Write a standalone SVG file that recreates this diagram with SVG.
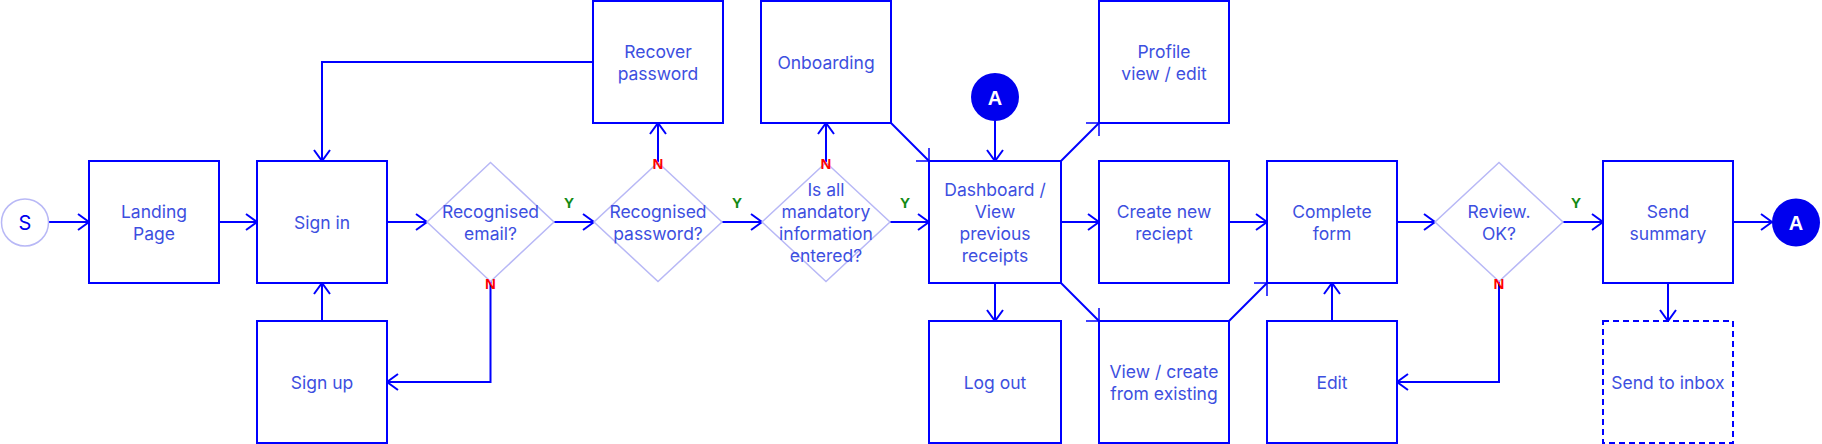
<svg xmlns="http://www.w3.org/2000/svg" width="1822" height="444" viewBox="0 0 1822 444">
<defs>
<style>
.box{fill:#ffffff;stroke:#0000ff;stroke-width:2}
.dash{stroke-dasharray:6 4}
.dia{fill:#ffffff;stroke:#b8b8f6;stroke-width:1.5}
.t{font-family:Inter,"Liberation Sans",sans-serif;font-size:17.5px;fill:#3d4fe0;text-anchor:middle}
.c{fill:none;stroke:#0000ff;stroke-width:2;marker-end:url(#arr)}
.d{fill:none;stroke:#0000ff;stroke-width:2;marker-end:url(#arrd)}
.y{font-family:"Liberation Sans",Arial,sans-serif;font-size:15px;font-weight:bold;fill:#138a13;text-anchor:middle}
.n{font-family:"Liberation Sans",Arial,sans-serif;font-size:15px;font-weight:bold;fill:#ff0000;text-anchor:middle}
.a{font-family:"Liberation Sans",Arial,sans-serif;font-size:20px;font-weight:bold;fill:#ffffff;text-anchor:middle}
</style>
<marker id="arr" markerUnits="userSpaceOnUse" markerWidth="30" markerHeight="30" viewBox="-15 -15 30 30" refX="0" refY="0" orient="auto" overflow="visible">
<path d="M-11,-8 L0,0 L-11,8" fill="none" stroke="#0000ff" stroke-width="2"/>
</marker>
<marker id="arrd" markerUnits="userSpaceOnUse" markerWidth="30" markerHeight="30" viewBox="-15 -15 30 30" refX="0" refY="0" orient="auto" overflow="visible">
<path d="M-9.2,-9.2 L0,0 L-9.2,9.2" fill="none" stroke="#0000ff" stroke-width="1.5"/>
</marker>
</defs>
<rect width="1822" height="444" fill="#ffffff"/>

<g id="connectors">
<path class="c" d="M49,222 H89"/>
<path class="c" d="M219,222 H257"/>
<path class="c" d="M387,222 H427"/>
<path class="c" d="M554,222 H594"/>
<path class="c" d="M722,222 H762"/>
<path class="c" d="M890,222 H929"/>
<path class="c" d="M1061,222 H1099"/>
<path class="c" d="M1229,222 H1267"/>
<path class="c" d="M1397,222 H1435"/>
<path class="c" d="M1563,222 H1603"/>
<path class="c" d="M1733,222 H1772"/>
<path class="c" d="M593,62 H322 V161"/>
<path class="c" d="M322,321 V283"/>
<path class="c" d="M490.5,281 V382 H387"/>
<path class="c" d="M658,162 V123"/>
<path class="c" d="M826,162 V123"/>
<path class="c" d="M995,121 V161"/>
<path class="c" d="M995,283 V321"/>
<path class="c" d="M1332,321 V283"/>
<path class="c" d="M1499,281 V382 H1397"/>
<path class="c" d="M1668,283 V321"/>
<path class="d" d="M891,123 L929,161"/>
<path class="d" d="M1061,161 L1099,123"/>
<path class="d" d="M1061,283 L1099,321"/>
<path class="d" d="M1229,321 L1267,283"/>
</g>

<g id="start">
<circle cx="25" cy="222.5" r="23.5" fill="#ffffff" stroke="#b8b8f6" stroke-width="1.5"/>
<text class="t" x="25" y="230" style="fill:#0000ee;font-size:20px">S</text>
</g>
<g id="landing">
<rect class="box" x="89" y="161" width="130" height="122"/>
<text class="t" x="154" y="218">Landing</text>
<text class="t" x="154" y="240">Page</text>
</g>
<g id="signin">
<rect class="box" x="257" y="161" width="130" height="122"/>
<text class="t" x="322" y="229">Sign in</text>
</g>
<g id="signup">
<rect class="box" x="257" y="321" width="130" height="122"/>
<text class="t" x="322" y="389">Sign up</text>
</g>
<g id="email">
<polygon class="dia" points="490.5,162.5 554,222 490.5,281.5 427,222"/>
<text class="t" x="490.5" y="218">Recognised</text>
<text class="t" x="490.5" y="240">email?</text>
</g>
<g id="recover">
<rect class="box" x="593" y="1" width="130" height="122"/>
<text class="t" x="658" y="58">Recover</text>
<text class="t" x="658" y="80">password</text>
</g>
<g id="password">
<polygon class="dia" points="658,162.5 722,222 658,281.5 594,222"/>
<text class="t" x="658" y="218">Recognised</text>
<text class="t" x="658" y="240">password?</text>
</g>
<g id="onboarding">
<rect class="box" x="761" y="1" width="130" height="122"/>
<text class="t" x="826" y="69">Onboarding</text>
</g>
<g id="mandatory">
<polygon class="dia" points="826,162.5 890,222 826,281.5 762,222"/>
<text class="t" x="826" y="196">Is all</text>
<text class="t" x="826" y="218">mandatory</text>
<text class="t" x="826" y="240">information</text>
<text class="t" x="826" y="262">entered?</text>
</g>
<g id="dashboard">
<rect class="box" x="929" y="161" width="132" height="122"/>
<text class="t" x="995" y="196">Dashboard /</text>
<text class="t" x="995" y="218">View</text>
<text class="t" x="995" y="240">previous</text>
<text class="t" x="995" y="262">receipts</text>
</g>
<g id="connectorA-top">
<circle cx="995" cy="97" r="24" fill="#0000ee"/>
<text class="a" x="995" y="104.5">A</text>
</g>
<g id="logout">
<rect class="box" x="929" y="321" width="132" height="122"/>
<text class="t" x="995" y="389">Log out</text>
</g>
<g id="profile">
<rect class="box" x="1099" y="1" width="130" height="122"/>
<text class="t" x="1164" y="58">Profile</text>
<text class="t" x="1164" y="80">view / edit</text>
</g>
<g id="createnew">
<rect class="box" x="1099" y="161" width="130" height="122"/>
<text class="t" x="1164" y="218">Create new</text>
<text class="t" x="1164" y="240">reciept</text>
</g>
<g id="viewcreate">
<rect class="box" x="1099" y="321" width="130" height="122"/>
<text class="t" x="1164" y="378">View / create</text>
<text class="t" x="1164" y="400">from existing</text>
</g>
<g id="complete">
<rect class="box" x="1267" y="161" width="130" height="122"/>
<text class="t" x="1332" y="218">Complete</text>
<text class="t" x="1332" y="240">form</text>
</g>
<g id="edit">
<rect class="box" x="1267" y="321" width="130" height="122"/>
<text class="t" x="1332" y="389">Edit</text>
</g>
<g id="review">
<polygon class="dia" points="1499,162.5 1563,222 1499,281.5 1435,222"/>
<text class="t" x="1499" y="218">Review.</text>
<text class="t" x="1499" y="240">OK?</text>
</g>
<g id="sendsummary">
<rect class="box" x="1603" y="161" width="130" height="122"/>
<text class="t" x="1668" y="218">Send</text>
<text class="t" x="1668" y="240">summary</text>
</g>
<g id="sendinbox">
<rect class="box dash" x="1603" y="321" width="130" height="122"/>
<text class="t" x="1668" y="389">Send to inbox</text>
</g>
<g id="connectorA-end">
<circle cx="1796" cy="222.5" r="24" fill="#0000ee"/>
<text class="a" x="1796" y="230">A</text>
</g>

<g id="labels">
<text class="y" x="569" y="208">Y</text>
<text class="y" x="737" y="208">Y</text>
<text class="y" x="905" y="208">Y</text>
<text class="y" x="1576" y="208">Y</text>
<text class="n" x="490.5" y="288.5">N</text>
<text class="n" x="658" y="168.5">N</text>
<text class="n" x="826" y="168.5">N</text>
<text class="n" x="1499" y="288.5">N</text>
</g>
</svg>
